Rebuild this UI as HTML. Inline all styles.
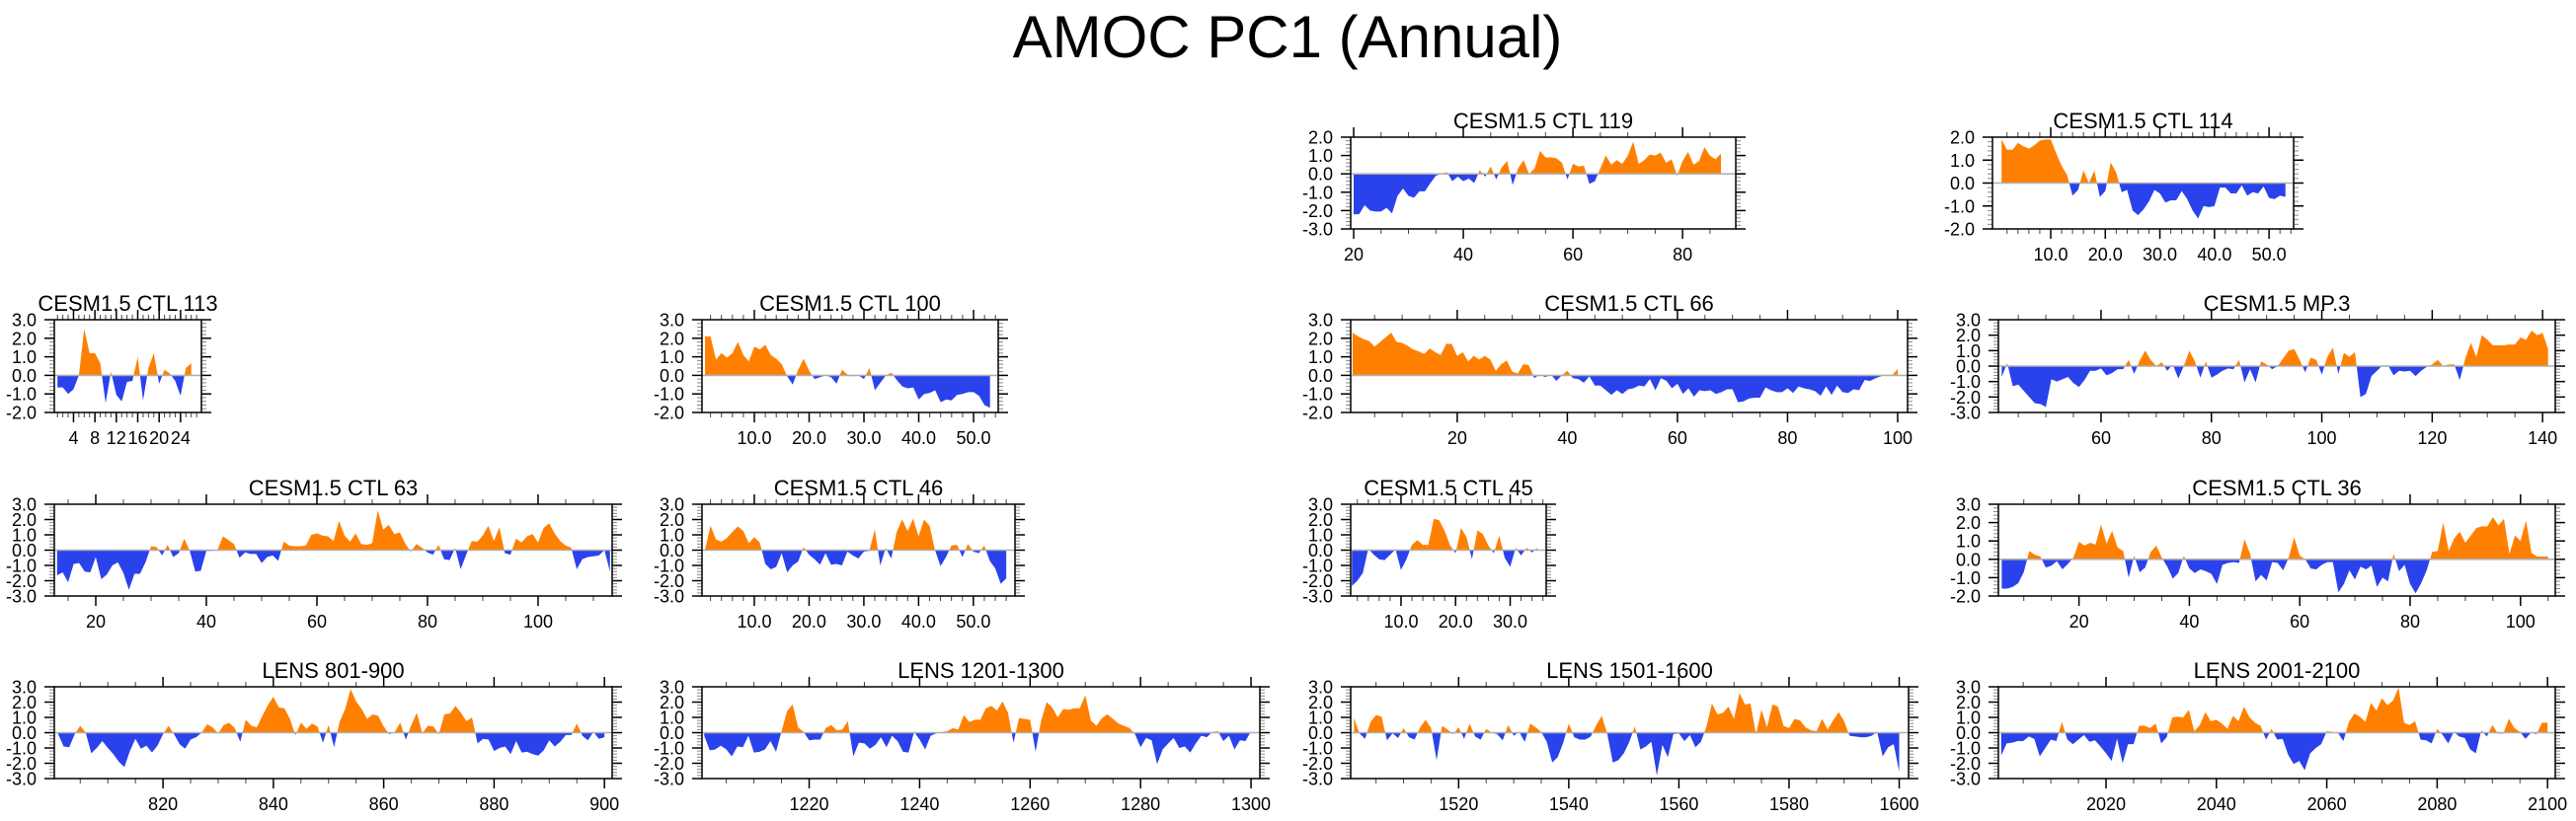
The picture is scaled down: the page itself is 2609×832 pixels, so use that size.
<!DOCTYPE html>
<html><head><meta charset="utf-8"><title>AMOC PC1 (Annual)</title>
<style>html,body{margin:0;padding:0;background:#fff;}svg{display:block;}text{font-family:"Liberation Sans",Arial,sans-serif;fill:#000;}</style>
</head><body>
<svg id="chart" xmlns="http://www.w3.org/2000/svg" width="2609" height="832" viewBox="0 0 2609 832">
<text x="1304" y="58" font-size="60" text-anchor="middle">AMOC PC1 (Annual)</text>
</svg>
<script>
// ---- data (one value per year) ----
const ctl119Start = 20;
const ctl119Values = [-2.2,-2.2,-1.7,-2.0,-2.05,-2.05,-1.85,-2.15,-1.2,-0.8,-1.2,-1.3,-0.95,-0.95,-0.5,-0.1,0.0,0.1,-0.4,-0.15,-0.4,-0.25,-0.5,0.2,-0.15,0.4,-0.3,0.35,0.7,-0.6,0.3,0.75,0.0,0.3,1.25,0.9,0.9,0.85,0.6,-0.3,0.55,0.4,0.45,-0.55,-0.4,0.3,1.0,0.5,0.75,0.55,1.0,1.75,0.55,0.75,1.05,1.0,1.15,0.6,0.8,-0.1,0.7,1.2,0.5,0.7,1.45,1.0,0.8,1.1];
const ctl114Start = 1;
const ctl114Values = [1.9,1.45,1.45,1.75,1.6,1.5,1.65,1.85,1.9,1.9,1.3,0.75,0.35,-0.55,-0.3,0.55,0.0,0.55,-0.6,-0.35,0.9,0.45,-0.4,-0.3,-1.2,-1.4,-1.15,-0.8,-0.3,-0.45,-0.85,-0.75,-0.75,-0.35,-0.7,-1.2,-1.55,-1.0,-1.05,-1.0,-0.2,-0.2,-0.45,-0.45,-0.1,-0.55,-0.4,-0.45,-0.15,-0.65,-0.7,-0.55,-0.6];
const ctl113Start = 1;
const ctl113Values = [-0.65,-0.65,-1.0,-0.75,0.0,2.5,1.2,1.2,0.65,-1.5,0.2,-1.05,-1.4,-0.35,-0.3,1.0,-1.35,0.4,1.2,-0.45,0.3,0.1,-0.3,-1.1,0.4,0.65];
const ctl100Start = 1;
const ctl100Values = [2.1,2.1,0.85,1.2,0.95,1.2,1.8,1.1,0.75,1.55,1.4,1.65,1.1,0.9,0.6,-0.05,-0.5,0.3,0.9,0.25,-0.2,-0.1,0.0,-0.1,-0.45,0.3,0.05,-0.05,0.0,-0.2,0.4,-0.8,-0.4,0.0,0.15,-0.25,-0.6,-0.7,-0.65,-1.3,-1.0,-0.95,-0.8,-1.45,-1.3,-1.35,-1.05,-1.0,-0.9,-0.9,-1.1,-1.6,-1.75];
const ctl66Start = 1;
const ctl66Values = [2.3,2.1,1.95,1.85,1.55,1.8,2.05,2.3,1.8,1.75,1.6,1.4,1.3,1.15,1.45,1.25,1.1,1.7,1.7,1.05,1.25,0.75,1.05,0.85,1.05,0.85,0.25,0.6,0.8,0.2,0.1,0.6,0.55,-0.15,0.05,-0.1,0.05,-0.3,0.0,0.25,-0.15,-0.2,-0.4,-0.05,-0.55,-0.55,-0.8,-1.05,-0.8,-1.0,-0.75,-0.7,-0.55,-0.6,-0.2,-0.8,-0.15,-0.3,-0.7,-0.45,-1.0,-0.7,-1.15,-0.8,-0.85,-0.8,-1.0,-0.9,-0.75,-0.75,-1.45,-1.4,-1.25,-1.2,-1.2,-0.65,-0.8,-0.9,-0.9,-0.7,-0.95,-0.6,-0.7,-0.75,-0.85,-1.1,-0.6,-1.05,-0.55,-0.9,-0.95,-0.75,-0.8,-0.25,-0.3,-0.15,-0.05,0.05,0.0,0.35];
const mp3Start = 42;
const mp3Values = [-0.7,0.2,-1.3,-1.2,-1.6,-2.0,-2.4,-2.45,-2.65,-0.85,-1.0,-0.85,-0.7,-1.1,-1.35,-0.9,-0.3,-0.3,-0.15,-0.6,-0.45,-0.2,-0.2,0.4,-0.5,0.35,1.0,0.4,0.0,0.25,-0.3,0.1,-0.8,0.0,1.0,0.3,-0.75,0.3,-0.75,-0.55,-0.3,-0.15,-0.2,0.4,-1.05,-0.2,-1.05,0.3,0.1,-0.2,0.0,0.5,1.0,1.1,0.4,-0.4,0.55,0.4,-0.55,0.6,1.2,-0.5,0.85,0.6,0.9,-2.0,-1.8,-0.65,-0.3,0.05,0.05,-0.6,-0.3,-0.35,-0.3,-0.65,-0.3,-0.05,0.1,0.4,0.0,0.1,0.1,-0.9,0.5,1.5,0.6,2.0,1.7,1.35,1.35,1.35,1.4,1.4,1.85,1.7,2.3,2.0,2.15,1.1];
const ctl63Start = 13;
const ctl63Values = [-1.65,-1.45,-2.1,-0.9,-0.85,-1.4,-1.45,-0.45,-1.9,-1.6,-1.0,-0.8,-1.5,-2.6,-1.55,-1.55,-0.8,0.25,0.2,-0.35,0.35,-0.45,-0.2,0.75,-0.05,-1.4,-1.35,-0.05,-0.05,0.0,0.9,0.65,0.4,-0.5,-0.15,-0.25,-0.25,-0.85,-0.45,-0.35,-0.7,0.55,0.3,0.25,0.25,0.3,1.0,1.1,0.95,0.9,0.6,1.9,0.95,0.55,1.1,0.4,0.35,0.45,2.6,1.35,1.65,1.05,1.15,0.4,-0.1,0.4,0.15,-0.15,-0.3,0.35,-0.6,-0.65,0.15,-1.25,-0.3,0.6,0.55,0.95,1.6,0.6,1.5,-0.2,-0.3,0.75,0.5,0.9,1.05,0.5,1.45,1.75,1.1,0.6,0.3,0.15,-1.25,-0.6,-0.45,-0.4,-0.35,0.0,-1.4];
const ctl46Start = 1;
const ctl46Values = [0.0,1.6,0.7,0.55,0.8,1.2,1.55,1.25,0.45,0.85,0.5,-0.9,-1.25,-1.1,-0.2,-1.45,-1.0,-0.75,0.2,-0.3,-0.6,-0.95,-0.2,-0.95,-0.9,-1.0,-0.1,-0.35,-0.55,-0.1,-0.05,1.35,-1.0,0.15,-0.55,1.2,2.0,1.25,2.05,0.9,2.0,1.6,0.0,-1.05,-0.45,0.3,0.35,-0.45,0.4,-0.1,-0.2,0.3,-0.7,-1.2,-2.2,-1.85];
const ctl45Start = 1;
const ctl45Values = [-2.35,-2.0,-1.5,0.1,-0.3,-0.6,-0.65,-0.3,0.05,-1.3,-0.6,0.35,0.65,0.35,0.35,2.05,1.95,1.25,0.3,-0.2,1.45,0.85,-0.6,1.3,1.05,0.3,-0.2,0.95,-0.5,-1.1,0.15,-0.35,0.15,-0.15,0.15];
const ctl36Start = 6;
const ctl36Values = [-1.6,-1.6,-1.5,-1.3,-0.7,0.45,0.25,0.15,-0.45,-0.35,-0.1,-0.55,-0.25,0.1,0.95,0.75,0.9,0.8,1.9,0.85,1.55,0.65,0.45,-1.0,0.2,-0.7,-0.45,0.4,0.75,0.1,-0.4,-1.05,-0.75,0.2,-0.5,-0.75,-0.55,-0.65,-0.8,-1.35,-0.3,-0.2,-0.15,-0.2,1.1,0.3,-1.2,-0.85,-1.15,-0.15,-0.2,-0.6,0.1,1.2,0.2,0.0,-0.5,-0.55,-0.3,-0.15,-0.15,-1.8,-1.35,-0.6,-1.1,-0.4,-0.55,-0.35,-1.5,-1.0,-1.2,0.3,-0.65,-0.3,-1.35,-1.85,-1.3,-0.6,0.4,0.45,2.0,0.45,1.15,1.5,0.9,1.3,1.7,1.8,1.8,2.3,1.85,2.2,0.3,1.3,1.0,2.1,0.35,0.15,0.15,0.15];
const lens801Start = 801;
const lens801Values = [-0.1,-0.9,-0.95,-0.1,0.45,0.0,-1.35,-1.0,-0.55,-1.0,-1.4,-1.9,-2.25,-1.2,-0.4,-1.05,-0.85,-1.3,-0.85,-0.1,0.45,-0.1,-0.75,-1.05,-0.45,-0.3,0.0,0.55,0.35,-0.05,0.5,0.65,0.3,-0.6,0.85,0.45,0.35,1.1,1.8,2.35,1.65,1.6,0.9,-0.15,0.65,0.25,0.6,0.4,-0.65,0.5,-0.95,0.7,1.55,2.85,2.05,1.55,0.9,1.2,1.1,0.4,-0.1,0.05,0.65,-0.45,0.5,1.3,-0.05,0.45,0.4,-0.1,1.2,1.25,1.75,1.3,0.75,1.0,-0.7,-0.4,-0.45,-1.2,-1.0,-0.9,-1.4,-0.55,-1.3,-1.25,-1.4,-1.5,-1.15,-0.5,-0.9,-0.6,-0.15,-0.15,0.6,-0.2,-0.5,0.05,-0.4,-0.3];
const lens1201Start = 1201;
const lens1201Values = [-0.2,-1.15,-1.1,-0.85,-1.1,-1.55,-0.9,-0.95,-0.2,-1.3,-1.25,-1.1,-0.55,-1.25,0.1,1.4,1.85,0.35,0.05,-0.5,-0.45,-0.45,0.3,0.5,0.15,0.2,0.75,-1.55,-0.65,-0.7,-1.05,-0.8,-0.3,-0.95,-0.2,-0.55,-1.25,-1.3,0.05,-0.45,-1.1,-0.2,-0.05,0.05,0.1,0.3,0.2,1.15,0.7,0.85,0.85,1.6,1.75,1.45,2.05,1.3,-0.65,0.95,0.9,0.85,-1.25,0.8,2.0,1.65,1.0,1.55,1.5,1.6,1.6,2.45,0.8,0.45,0.95,1.2,0.9,0.6,0.45,0.3,-0.1,-0.95,-0.35,-0.5,-2.05,-1.1,-0.7,-0.35,-1.0,-0.9,-1.3,-0.7,-0.2,-0.3,0.05,0.1,-0.55,-0.2,-1.1,-0.5,-0.55,0.1];
const lens1501Start = 1501;
const lens1501Values = [0.95,-0.05,-0.4,0.7,1.15,1.05,-0.5,-0.05,-0.35,0.3,-0.3,-0.45,0.35,0.85,0.3,-1.8,0.45,0.2,-0.1,0.35,-0.4,0.6,-0.25,-0.45,0.25,0.0,-0.1,-0.5,0.5,-0.2,0.05,-0.6,0.6,0.35,0.05,-0.6,-1.95,-1.6,-0.65,0.6,-0.3,-0.45,-0.45,-0.25,0.5,1.1,-0.1,-1.95,-1.8,-1.35,-0.6,0.4,-1.1,-0.9,-0.6,-2.8,-0.8,-1.6,-0.1,-0.05,-0.55,-0.15,-0.95,-0.6,0.4,1.9,1.2,1.3,1.7,0.9,2.6,1.85,1.9,-0.1,1.5,0.35,1.85,1.7,0.45,0.3,0.9,0.8,0.35,0.15,0.1,0.9,0.2,0.8,1.35,0.75,-0.2,-0.25,-0.3,-0.3,-0.2,0.05,-1.55,-0.95,-0.75,-2.55];
const lens2001Start = 2001;
const lens2001Values = [-1.5,-0.7,-0.65,-0.55,-0.55,-0.25,-0.4,-1.55,-1.0,-0.45,-0.55,0.7,-0.45,-0.75,-0.45,-0.15,-0.6,-0.5,-0.9,-1.35,-1.85,-0.4,-2.0,-0.75,-0.75,0.45,0.45,0.3,0.6,-0.7,-0.3,1.0,1.05,1.0,1.5,0.1,0.5,1.35,0.75,0.85,0.6,0.25,1.1,0.75,1.7,1.0,0.65,0.45,-0.45,0.25,-0.45,-0.4,-1.45,-2.05,-1.85,-2.45,-1.35,-1.0,-0.75,0.1,0.05,0.0,-0.55,0.7,1.25,1.05,0.7,1.95,1.45,2.25,1.8,2.1,2.95,0.65,0.5,0.75,-0.45,-0.5,-0.7,0.25,-0.15,-0.7,0.05,-0.25,-0.35,-1.1,-1.35,0.15,-0.25,0.5,-0.05,-0.05,0.9,0.3,0.05,-0.4,0.0,-0.1,0.65,0.65];

// panel titles
const panelTitles = ["CESM1.5 CTL 119","CESM1.5 CTL 114","CESM1.5 CTL 113","CESM1.5 CTL 100","CESM1.5 CTL 66","CESM1.5 MP.3","CESM1.5 CTL 63","CESM1.5 CTL 46","CESM1.5 CTL 45","CESM1.5 CTL 36","LENS 801-900","LENS 1201-1300","LENS 1501-1600","LENS 2001-2100"];

// layout (frames in px, axis ranges)
const panels = [
 {id:"ctl-119",L:1368,R:1758,T:139,B:232,xmin:19.46,xmax:89.7,ymin:-3,ymax:2,t0:20,tStep:20,tEnd:80,mStep:5,dec:0,start:ctl119Start,vals:ctl119Values},
 {id:"ctl-114",L:2018,R:2323,T:139,B:232,xmin:-0.67,xmax:54.5,ymin:-2,ymax:2,t0:10,tStep:10,tEnd:50,mStep:2,dec:1,start:ctl114Start,vals:ctl114Values},
 {id:"ctl-113",L:55,R:204,T:324,B:418,xmin:0.41,xmax:27.9,ymin:-2,ymax:3,t0:4,tStep:4,tEnd:24,mStep:1,dec:0,start:ctl113Start,vals:ctl113Values},
 {id:"ctl-100",L:711,R:1011,T:324,B:418,xmin:0.45,xmax:54.5,ymin:-2,ymax:3,t0:10,tStep:10,tEnd:50,mStep:2,dec:1,start:ctl100Start,vals:ctl100Values},
 {id:"ctl-66",L:1368,R:1932,T:324,B:418,xmin:0.65,xmax:101.8,ymin:-2,ymax:3,t0:20,tStep:20,tEnd:100,mStep:5,dec:0,start:ctl66Start,vals:ctl66Values},
 {id:"mp-3",L:2024,R:2588,T:324,B:418,xmin:41.4,xmax:142.3,ymin:-3,ymax:3,t0:60,tStep:20,tEnd:140,mStep:5,dec:0,start:mp3Start,vals:mp3Values},
 {id:"ctl-63",L:55,R:620,T:511,B:604,xmin:12.5,xmax:113.4,ymin:-3,ymax:3,t0:20,tStep:20,tEnd:100,mStep:5,dec:0,start:ctl63Start,vals:ctl63Values},
 {id:"ctl-46",L:711,R:1028,T:511,B:604,xmin:0.45,xmax:57.6,ymin:-3,ymax:3,t0:10,tStep:10,tEnd:50,mStep:2,dec:1,start:ctl46Start,vals:ctl46Values},
 {id:"ctl-45",L:1368,R:1566,T:511,B:604,xmin:0.78,xmax:36.6,ymin:-3,ymax:3,t0:10,tStep:10,tEnd:30,mStep:2,dec:1,start:ctl45Start,vals:ctl45Values},
 {id:"ctl-36",L:2024,R:2588,T:511,B:604,xmin:5.4,xmax:106.3,ymin:-2,ymax:3,t0:20,tStep:20,tEnd:100,mStep:5,dec:0,start:ctl36Start,vals:ctl36Values},
 {id:"lens-801-900",L:55,R:620,T:696,B:789,xmin:800.3,xmax:901.4,ymin:-3,ymax:3,t0:820,tStep:20,tEnd:900,mStep:5,dec:0,start:lens801Start,vals:lens801Values},
 {id:"lens-1201-1300",L:711,R:1276,T:696,B:789,xmin:1200.6,xmax:1301.6,ymin:-3,ymax:3,t0:1220,tStep:20,tEnd:1300,mStep:5,dec:0,start:lens1201Start,vals:lens1201Values},
 {id:"lens-1501-1600",L:1368,R:1933,T:696,B:789,xmin:1500.4,xmax:1601.7,ymin:-3,ymax:3,t0:1520,tStep:20,tEnd:1600,mStep:5,dec:0,start:lens1501Start,vals:lens1501Values},
 {id:"lens-2001-2100",L:2024,R:2588,T:696,B:789,xmin:2000.5,xmax:2101.4,ymin:-3,ymax:3,t0:2020,tStep:20,tEnd:2100,mStep:5,dec:0,start:lens2001Start,vals:lens2001Values}
];

const NS = "http://www.w3.org/2000/svg";
const svg = document.getElementById("chart");
function mk(tag, attrs, parent){
  const e = document.createElementNS(NS, tag);
  for (const k in attrs) e.setAttribute(k, attrs[k]);
  parent.appendChild(e);
  return e;
}
const defs = mk("defs", {}, svg);

panels.forEach((p, pi) => {
  const sx = v => p.L + (v - p.xmin) / (p.xmax - p.xmin) * (p.R - p.L);
  const sy = v => p.B - (v - p.ymin) / (p.ymax - p.ymin) * (p.B - p.T);
  const g = mk("g", {}, svg);
  
  

  const y0 = sy(0);
  const cpA = mk("clipPath", {id: "ca" + pi}, defs);
  mk("rect", {x: p.L, y: p.T, width: p.R - p.L, height: y0 - p.T}, cpA);
  const cpB = mk("clipPath", {id: "cb" + pi}, defs);
  mk("rect", {x: p.L, y: y0, width: p.R - p.L, height: p.B - y0}, cpB);

  let d = "M" + sx(p.start).toFixed(2) + "," + y0.toFixed(2);
  p.vals.forEach((v, i) => { d += " L" + sx(p.start + i).toFixed(2) + "," + sy(v).toFixed(2); });
  d += " L" + sx(p.start + p.vals.length - 1).toFixed(2) + "," + y0.toFixed(2) + " Z";
  const pos = mk("path", {d: d, fill: "#ff8000", "clip-path": "url(#ca" + pi + ")"}, g);
  
  
  const neg = mk("path", {d: d, fill: "#2a42ec", "clip-path": "url(#cb" + pi + ")"}, g);
  
  

  const zl = mk("line", {x1: p.L, x2: p.R, y1: y0, y2: y0, stroke: "#b0b0b0", "stroke-width": 1.6}, g);
  
  

  for (let k = Math.round(p.ymin * 5); k <= Math.round(p.ymax * 5); k++) {
    const y = sy(k / 5);
    if (k % 5 === 0) continue;
    mk("line", {x1: p.L - 5, x2: p.L, y1: y, y2: y, stroke: "#888", "stroke-width": 1}, g);
    mk("line", {x1: p.R, x2: p.R + 5, y1: y, y2: y, stroke: "#888", "stroke-width": 1}, g);
  }
  for (let v = p.ymin; v <= p.ymax; v++) {
    const y = sy(v);
    mk("line", {x1: p.L - 10, x2: p.L, y1: y, y2: y, stroke: "#000", "stroke-width": 1.5}, g);
    mk("line", {x1: p.R, x2: p.R + 10, y1: y, y2: y, stroke: "#000", "stroke-width": 1.5}, g);
    const t = mk("text", {x: p.L - 18, y: y + 6.5, "font-size": 18, "text-anchor": "end"}, g);
    t.textContent = v.toFixed(1);
    
    
  }
  const mStart = Math.ceil(p.xmin / p.mStep) * p.mStep;
  for (let v = mStart; v <= p.xmax; v += p.mStep) {
    if (Math.abs((v - p.t0) / p.tStep - Math.round((v - p.t0) / p.tStep)) < 1e-6) continue;
    const x = sx(v);
    mk("line", {x1: x, x2: x, y1: p.T - 5, y2: p.T, stroke: "#444", "stroke-width": 1}, g);
    mk("line", {x1: x, x2: x, y1: p.B, y2: p.B + 5, stroke: "#444", "stroke-width": 1}, g);
  }
  for (let v = p.t0; v <= p.tEnd + 1e-9; v += p.tStep) {
    const x = sx(v);
    mk("line", {x1: x, x2: x, y1: p.T - 10, y2: p.T, stroke: "#000", "stroke-width": 1.5}, g);
    mk("line", {x1: x, x2: x, y1: p.B, y2: p.B + 10, stroke: "#000", "stroke-width": 1.5}, g);
    const t = mk("text", {x: x, y: p.B + 32, "font-size": 18, "text-anchor": "middle"}, g);
    t.textContent = v.toFixed(p.dec);
    
    
  }
  const fr = mk("rect", {x: p.L, y: p.T, width: p.R - p.L, height: p.B - p.T, fill: "none", stroke: "#000", "stroke-width": 1.5}, g);
  
  

  const tt = mk("text", {x: (p.L + p.R) / 2, y: p.T - 9, "font-size": 22, "text-anchor": "middle"}, g);
  tt.textContent = panelTitles[pi];
  
  
});
</script>
</body></html>
